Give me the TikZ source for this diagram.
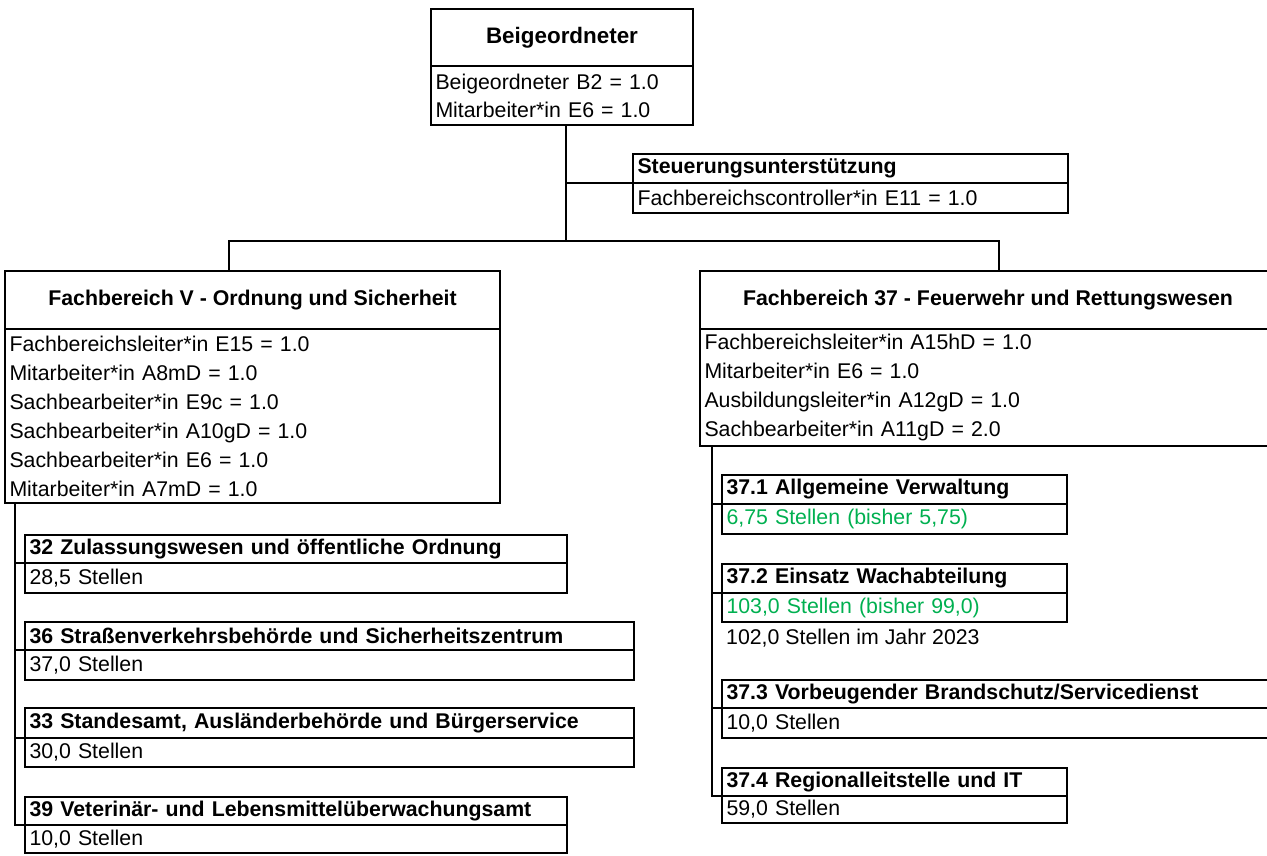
\documentclass[tikz,border=0pt]{standalone}
\usepackage{fontspec}
\setmainfont{Liberation Sans}
\definecolor{grn}{HTML}{00B050}
\tikzset{
  bx/.style={draw, line width=2.4pt, inner ysep=0pt, inner xsep=4.5pt, outer sep=0pt, anchor=north west, font=\fontsize{21.3pt}{29pt}\selectfont},
  lc/.style={bx, align=left},
  hc/.style={bx, align=center, font=\fontsize{21.3pt}{29pt}\selectfont\bfseries},
  hl/.style={bx, align=left, font=\fontsize{21.3pt}{29pt}\selectfont\bfseries},
  ln/.style={line width=2.4pt},
}
\begin{document}
\begin{tikzpicture}[x=1pt,y=-1pt]
\useasboundingbox (0,0) rectangle (1267,856);

% Beigeordneter
\node[hc, minimum width=262pt, minimum height=57pt, font=\fontsize{22.4pt}{29pt}\selectfont\bfseries] (beigT) at (431,9) {Beigeordneter};
\node[lc, text width=253pt, minimum height=59pt, font=\fontsize{21.3pt}{28pt}\selectfont] (beigB) at (431,66) {Beigeordneter B2 = 1.0\\Mitarbeiter*in E6 = 1.0};

% Steuerungsunterstuetzung
\node[hl, text width=426pt, minimum height=29pt] (stT) at (633,154) {Steuerungsunterstützung};
\node[lc, text width=426pt, minimum height=30pt] (stB) at (633,183) {Fachbereichscontroller*in E11 = 1.0};

% Fachbereich V
\node[hc, minimum width=495pt, minimum height=58pt] (fvT) at (5,271) {Fachbereich V - Ordnung und Sicherheit};
\node[lc, text width=486pt, minimum height=174pt] (fvB) at (5,329) {Fachbereichsleiter*in E15 = 1.0\\Mitarbeiter*in A8mD = 1.0\\Sachbearbeiter*in E9c = 1.0\\Sachbearbeiter*in A10gD = 1.0\\Sachbearbeiter*in E6 = 1.0\\Mitarbeiter*in A7mD = 1.0};

% Fachbereich 37
\node[hc, minimum width=576pt, minimum height=58pt] (f37T) at (700,271) {Fachbereich 37 - Feuerwehr und Rettungswesen};
\node[lc, text width=567pt, minimum height=117pt] (f37B) at (700,329) {Fachbereichsleiter*in A15hD = 1.0\\Mitarbeiter*in E6 = 1.0\\Ausbildungsleiter*in A12gD = 1.0\\Sachbearbeiter*in A11gD = 2.0};

% left sub units
\node[hl, text width=533pt, minimum height=28pt] (s32T) at (25,535) {32 Zulassungswesen und öffentliche Ordnung};
\node[lc, text width=533pt, minimum height=30pt] (s32B) at (25,563) {28,5 Stellen};
\node[hl, text width=600pt, minimum height=28pt] (s36T) at (25,622) {36 Straßenverkehrsbehörde und Sicherheitszentrum};
\node[lc, text width=600pt, minimum height=30pt] (s36B) at (25,650) {37,0 Stellen};
\node[hl, text width=600pt, minimum height=30pt] (s33T) at (25,708) {33 Standesamt, Ausländerbehörde und Bürgerservice};
\node[lc, text width=600pt, minimum height=29pt] (s33B) at (25,738) {30,0 Stellen};
\node[hl, text width=533pt, minimum height=28pt] (s39T) at (25,797) {39 Veterinär- und Lebensmittelüberwachungsamt};
\node[lc, text width=533pt, minimum height=28pt] (s39B) at (25,825) {10,0 Stellen};

% right sub units
\node[hl, text width=336pt, minimum height=29pt] (r1T) at (722,475) {37.1 Allgemeine Verwaltung};
\node[lc, text width=336pt, minimum height=30pt, text=grn] (r1B) at (722,504) {6,75 Stellen (bisher 5,75)};
\node[hl, text width=336pt, minimum height=29pt] (r2T) at (722,564) {37.2 Einsatz Wachabteilung};
\node[lc, text width=336pt, minimum height=29pt, text=grn] (r2B) at (722,593) {103,0 Stellen (bisher 99,0)};
\node[anchor=west, inner sep=0pt, font=\fontsize{21.3pt}{29pt}\selectfont] (r2N) at (726,638) {102,0 Stellen im Jahr 2023};
\node[hl, text width=551pt, minimum height=28pt] (r3T) at (722,680) {37.3 Vorbeugender Brandschutz/Servicedienst};
\node[lc, text width=551pt, minimum height=30pt] (r3B) at (722,708) {10,0 Stellen};
\node[hl, text width=336pt, minimum height=28pt] (r4T) at (722,768) {37.4 Regionalleitstelle und IT};
\node[lc, text width=336pt, minimum height=27pt] (r4B) at (722,796) {59,0 Stellen};

% connectors
\coordinate (j1) at (566,241);
\coordinate (bl) at (229,241);
\coordinate (br) at (999,241);
\coordinate (ls) at (15,0);
\coordinate (rs) at (712,0);
\draw[ln] (beigB.south -| j1) -- (j1);
\draw[ln] (stT.south west -| j1) -- (stT.south west);
\draw[ln] (fvT.north -| bl) -- (bl) -- (br) -- (f37T.north -| br);
\draw[ln] (fvB.south -| ls) -- (s39B.north west -| ls) -- (s39B.north west);
\foreach \b in {s32B,s36B,s33B} \draw[ln] (\b.north west -| ls) -- (\b.north west);
\draw[ln] (f37B.south -| rs) -- (r4B.north west -| rs) -- (r4B.north west);
\foreach \b in {r1B,r2B,r3B} \draw[ln] (\b.north west -| rs) -- (\b.north west);
\end{tikzpicture}
\end{document}
